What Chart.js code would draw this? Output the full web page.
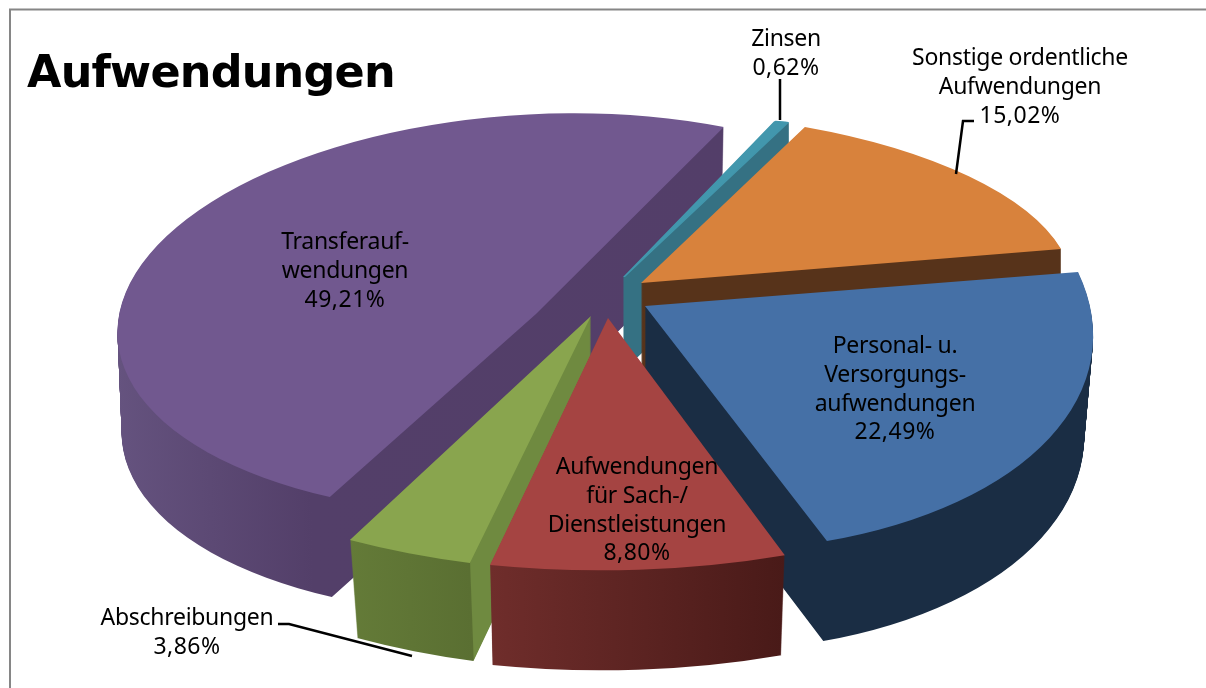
<!DOCTYPE html>
<html lang="de">
<head>
<meta charset="utf-8">
<title>Aufwendungen</title>
<script src="https://cdn.jsdelivr.net/npm/chart.js@4"></script>
<style>
  html, body { margin: 0; padding: 0; background: #fff; overflow: hidden; }
  canvas { display: block; }
</style>
</head>
<body>
<canvas id="pie" width="1206" height="688"></canvas>
<script>
// Daten
const titleText = 'Aufwendungen';
const categories = [
    ['Personal- u.', 'Versorgungs-', 'aufwendungen'],
    ['Aufwendungen', 'für Sach-/', 'Dienstleistungen'],
    ['Abschreibungen'],
    ['Transferauf-', 'wendungen'],
    ['Zinsen'],
    ['Sonstige ordentliche', 'Aufwendungen']
];
const shares = [22.49, 8.80, 3.86, 49.21, 0.62, 15.02];

// Farben
const topColors = ['#4570a6', '#a54442', '#89a54e', '#71588f', '#4297ad', '#d8823c'];
// Seitenwand: [Bildschirm-x, Farbe]
const wallStops = [
    [[645, '#1a2d44'], [1100, '#1a2d44']],
    [[490, '#6f2d2b'], [785, '#491a18']],
    [[350, '#647b38'], [475, '#5a6f32'], [476, '#6f8a40'], [591, '#6f8a40']],
    [[117, '#65537f'], [330, '#533f69'], [724, '#533e69']],
    [[624, '#357183'], [790, '#357183']],
    [[640, '#57331a'], [1062, '#57331a']]
];
// dünnes Segment braucht Kontur, sonst bleibt es durchscheinend
const thinBorder = [0, 0, 0, 0, 0.6, 0];

// 3D-Ansicht je Segment (Kippung + Explosion), Radius im Chart = 100
const viewX = [[446.5, 38.4], [541, 0.4], [528.4, -5.6], [418, -21.7], [367, -4], [431.4, 27.5]];
const viewY = [[8.8, 245.6], [-4.2, 252.3], [10, 255.3], [-8, 200.6], [-41, 152], [-4.3, 171.4]];
const viewOrigin = [[645, 306], [608, 318], [591, 316], [536, 314], [624, 277], [641, 283]];
const depths = [100, 100, 98, 100, 92, 92];
const bottomScale = [0.98, 0.98, 0.97, 0.99, 1, 1];
const drawOrder = [3, 4, 5, 0, 2, 1];
const baseRadius = 100;

// Beschriftung: Mitte x, erste Grundlinie
const labelPos = [[895, 353], [637, 474], [187, 625], [345, 249], [786, 46], [1020, 65]];
const lineGap = 28.8;
const leaderLines = [
    [[780, 79], [780, 120]],
    [[974, 121], [963, 121], [956, 174]],
    [[278, 624], [289, 624], [412, 656]]
];

function formatShare(v) {
    return v.toFixed(2).replace('.', ',') + '%';
}

// Segment mit eigener Matrix zeichnen
function applyView(ctx, arc, i, t) {
    const sx = 1 - (1 - bottomScale[i]) * t;
    const r = baseRadius;
    ctx.translate(viewOrigin[i][0], viewOrigin[i][1] + depths[i] * t);
    ctx.transform(viewX[i][0] * sx / r, viewY[i][0] / r, viewX[i][1] * sx / r, viewY[i][1] / r, 0, 0);
    ctx.translate(-arc.x, -arc.y);
}

function drawWith(ctx, arc, color, border) {
    const copy = Object.create(arc);
    copy.options = Object.assign({}, arc.options, { backgroundColor: color, borderColor: color, borderWidth: border });
    copy.draw(ctx);
}

const pie3d = {
    id: 'pie3d',
    beforeDatasetDraw(chart) {
        const ctx = chart.ctx;
        const arcs = chart.getDatasetMeta(0).data;
        drawOrder.forEach(i => {
            const arc = arcs[i];
            // Wandfarbe im Chart-Raum anlegen
            const toUser = x => arc.x + (x - viewOrigin[i][0]) * baseRadius / viewX[i][0];
            const a = toUser(wallStops[i][0][0]);
            const b = toUser(wallStops[i][wallStops[i].length - 1][0]);
            const grad = ctx.createLinearGradient(a, 0, b, 0);
            wallStops[i].forEach(s => {
                grad.addColorStop(Math.min(1, Math.max(0, (toUser(s[0]) - a) / (b - a))), s[1]);
            });
            // Extrusion von unten nach oben
            for (let d = depths[i]; d > 0; d--) {
                ctx.save();
                applyView(ctx, arc, i, d / depths[i]);
                drawWith(ctx, arc, grad, thinBorder[i]);
                ctx.restore();
            }
            ctx.save();
            applyView(ctx, arc, i, 0);
            drawWith(ctx, arc, topColors[i], thinBorder[i]);
            ctx.restore();
        });
        return false;
    },
    afterDraw(chart) {
        const ctx = chart.ctx;
        ctx.save();
        // Rahmen
        ctx.strokeStyle = '#868686';
        ctx.lineWidth = 2;
        ctx.strokeRect(10, 9.5, 1300, 800);
        // Titel
        ctx.fillStyle = '#000';
        ctx.textAlign = 'left';
        ctx.textBaseline = 'alphabetic';
        ctx.font = 'bold 44.5px "DejaVu Sans"';
        ctx.letterSpacing = '-0.8px';
        ctx.fillText(titleText, 27, 87);
        // Führungslinien
        ctx.strokeStyle = '#000';
        ctx.lineWidth = 2.5;
        leaderLines.forEach(pts => {
            ctx.beginPath();
            pts.forEach((p, n) => n ? ctx.lineTo(p[0], p[1]) : ctx.moveTo(p[0], p[1]));
            ctx.stroke();
        });
        // Beschriftung
        ctx.font = '23px "Noto Sans"';
        ctx.textAlign = 'center';
        categories.forEach((lines, i) => {
            lines.forEach((txt, n) => {
                ctx.letterSpacing = '-0.3px';
                ctx.fillText(txt, labelPos[i][0], labelPos[i][1] + n * lineGap);
            });
            ctx.letterSpacing = '0.5px';
            ctx.fillText(formatShare(shares[i]), labelPos[i][0], labelPos[i][1] + lines.length * lineGap);
        });
        ctx.restore();
    }
};

new Chart(document.getElementById('pie').getContext('2d'), {
    type: 'pie',
    data: {
        labels: categories.map(c => c.join(' ')),
        datasets: [{
            data: shares,
            backgroundColor: topColors,
            borderWidth: 0
        }]
    },
    options: {
        responsive: false,
        animation: false,
        rotation: 80,
        radius: baseRadius,
        plugins: {
            legend: { display: false },
            tooltip: { enabled: false }
        }
    },
    plugins: [pie3d]
});
</script>
</body>
</html>
